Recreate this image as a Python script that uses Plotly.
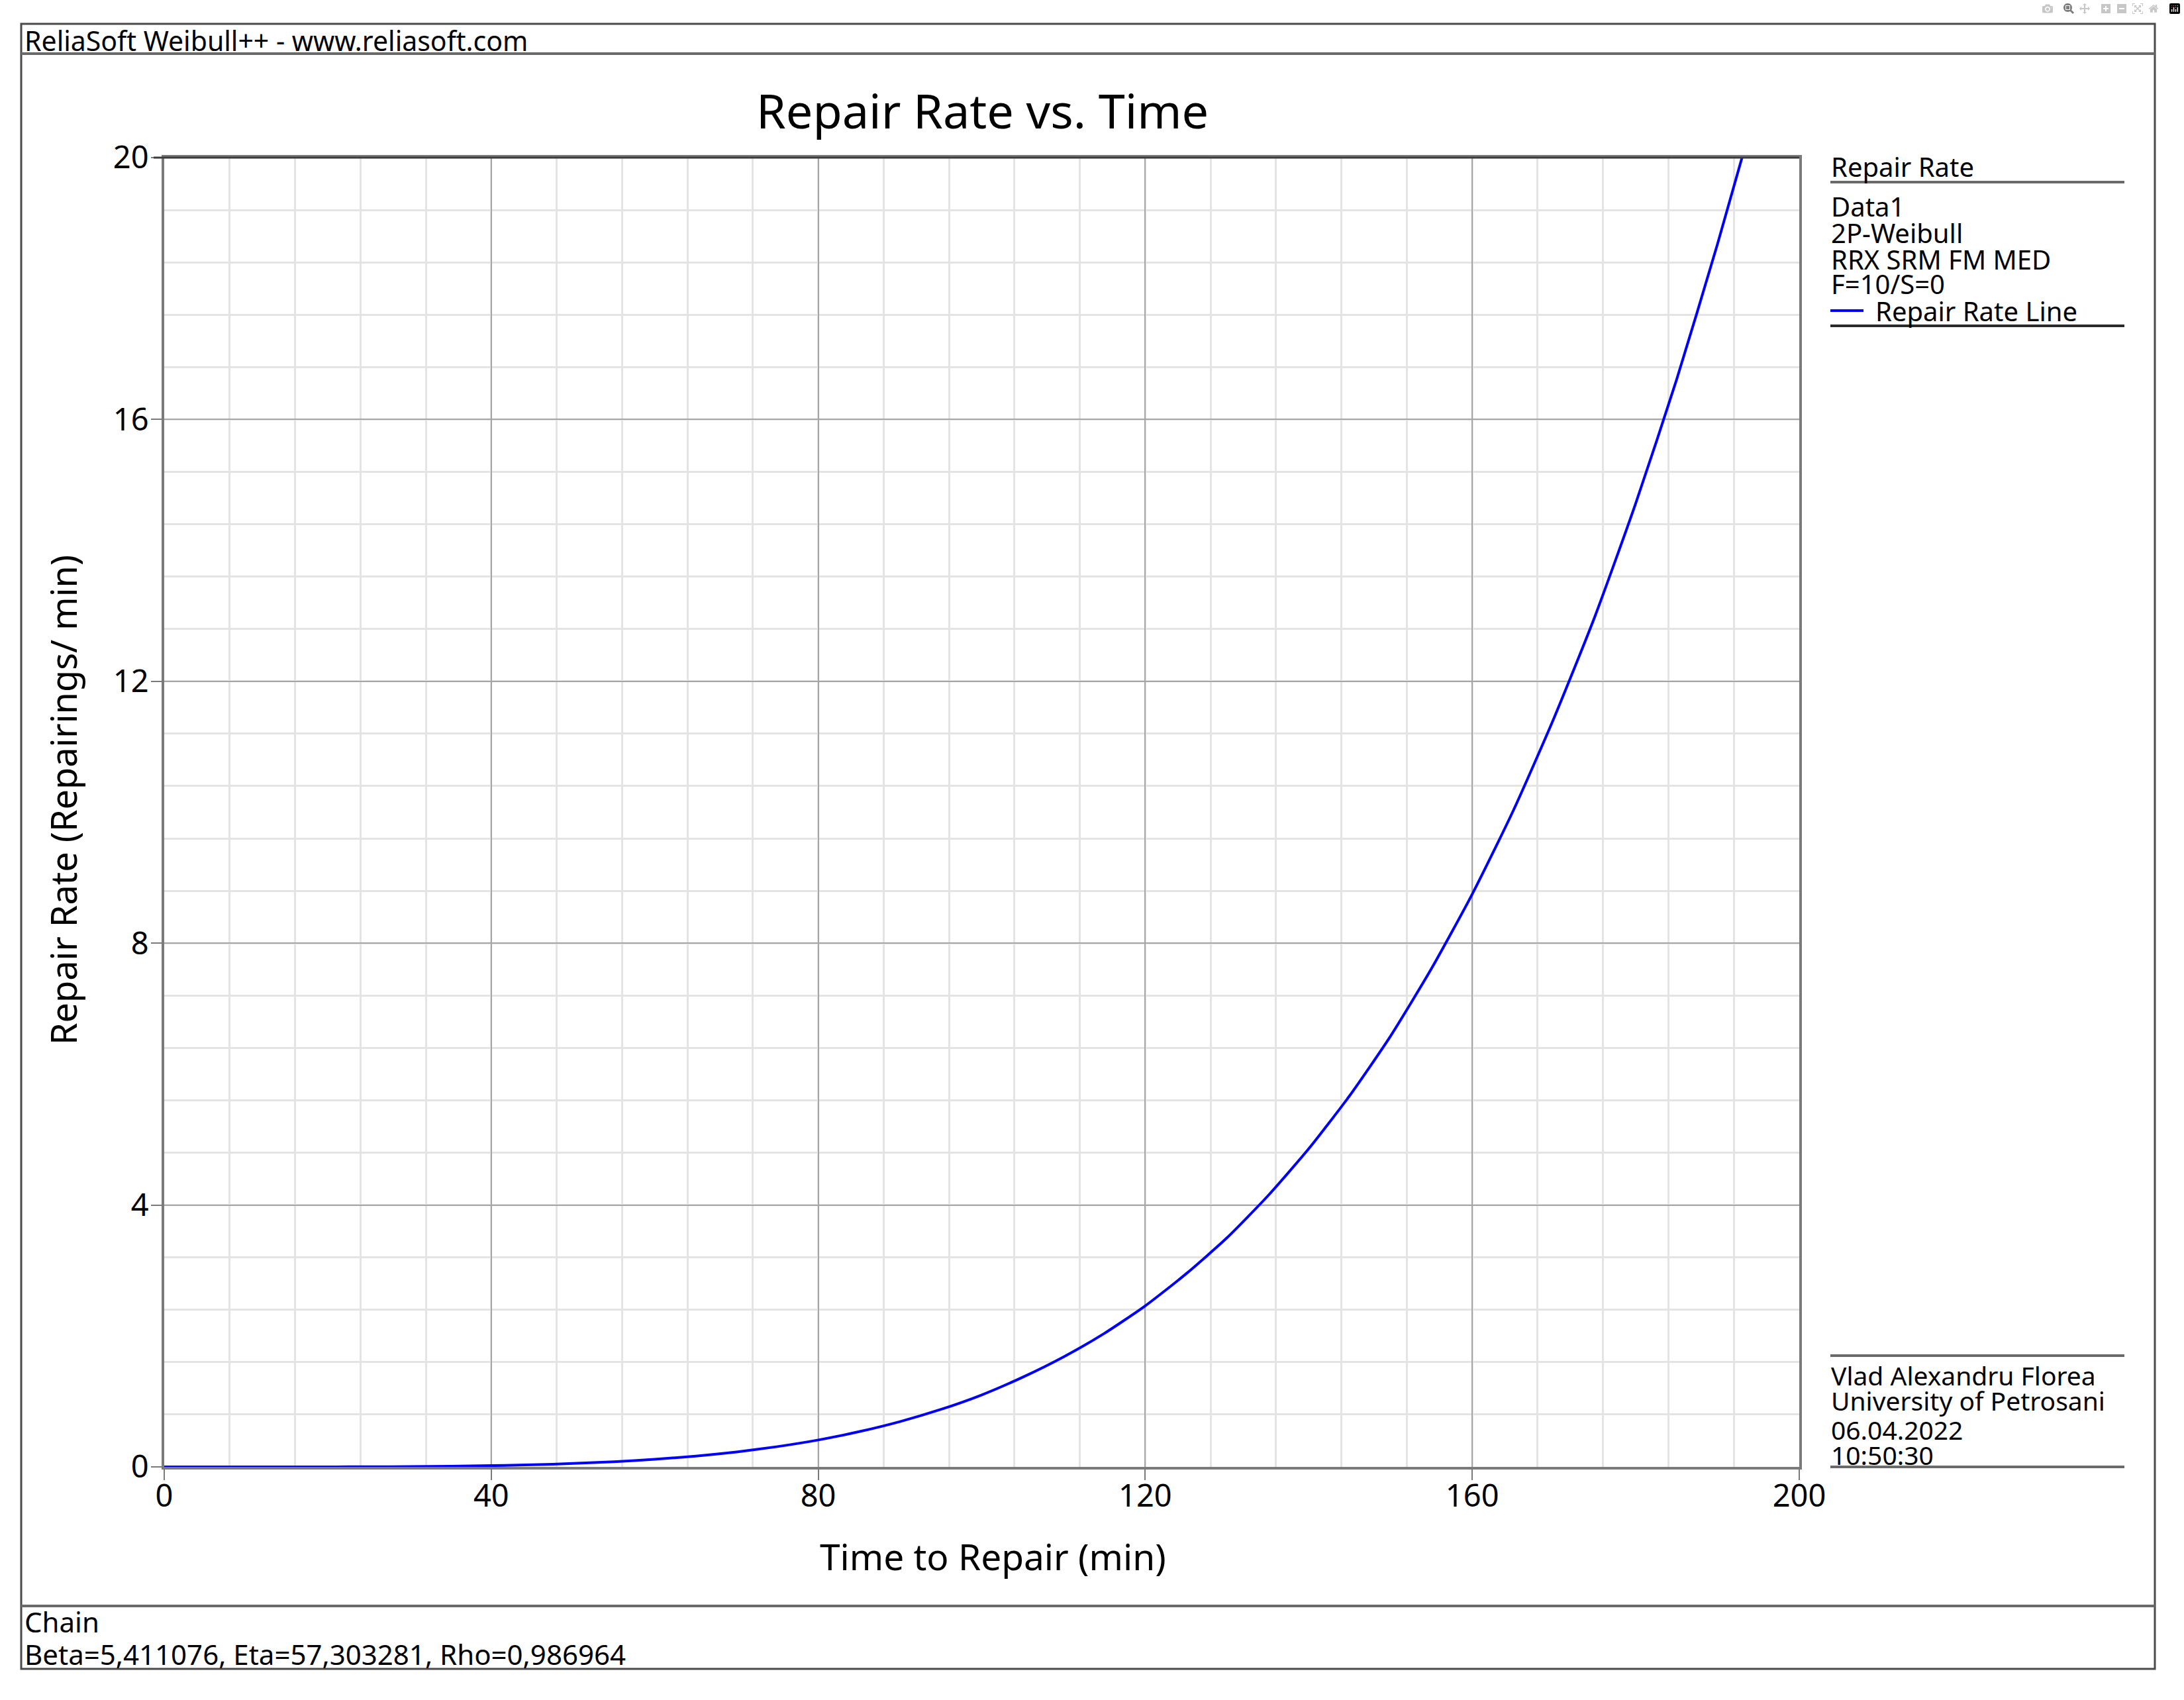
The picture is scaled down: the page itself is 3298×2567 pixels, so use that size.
import plotly.graph_objects as go

# ---------------- data ----------------
time_min = [0, 5, 10, 15, 20, 25, 30, 35, 40, 45, 50, 55, 60, 65, 70, 75, 80,
            85, 90, 95, 100, 105, 110, 115, 120, 125, 130, 135, 140, 145, 150,
            155, 160, 165, 170, 175, 180, 185, 190, 193]
repair_rate = [0.0, 0.0, 0.0, 0.0003, 0.0009, 0.0024, 0.0054, 0.0107, 0.0193,
               0.0325, 0.052, 0.079, 0.116, 0.165, 0.228, 0.310, 0.411, 0.538,
               0.692, 0.878, 1.10, 1.37, 1.68, 2.04, 2.46, 2.95, 3.50, 4.14,
               4.86, 5.67, 6.58, 7.61, 8.75, 10.02, 11.44, 12.99, 14.72, 16.61,
               18.68, 20.0]
x_ticks = [0, 40, 80, 120, 160, 200]
y_ticks = [0, 4, 8, 12, 16, 20]

header_text = "ReliaSoft Weibull++ - www.reliasoft.com"
title_text = "Repair Rate vs. Time"
x_title = "Time to Repair (min)"
y_title = "Repair Rate (Repairings/ min)"
legend_title = "Repair Rate"
legend_lines = ["Data1", "2P-Weibull", "RRX SRM FM MED", "F=10/S=0"]
legend_entry = "Repair Rate Line"
author_lines = ["Vlad Alexandru Florea", "University of Petrosani", "06.04.2022", "10:50:30"]
footer_lines = ["Chain", "Beta=5,411076, Eta=57,303281, Rho=0,986964"]

# ---------------- layout geometry (pixels) ----------------
W, H = 3298, 2567
L, R, T, B = 248, 2717, 238, 2215
FONT = "Noto Sans"


def px(x):
    return (x - L) / (R - L)


def py(y):
    return (B - y) / (B - T)


fig = go.Figure()
fig.add_trace(go.Scatter(
    x=time_min, y=repair_rate, mode="lines",
    line=dict(color="#0000ff", width=4, shape="spline", smoothing=0.6),
    name=legend_entry, showlegend=False, hoverinfo="x+y",
))

axis_common = dict(
    showline=True, linecolor="#7a7a7a", linewidth=4, mirror=True,
    ticks="outside", ticklen=16, tickwidth=2, tickcolor="#7a7a7a",
    showgrid=True, gridcolor="#a6a6a6", gridwidth=2,
    zeroline=False,
    tickfont=dict(family=FONT, size=47, color="#000000"),
)

fig.update_xaxes(range=[0, 200], tickvals=x_ticks, ticktext=[str(v) for v in x_ticks],
                 ticklabelstandoff=-16,
                 minor=dict(dtick=8, tick0=0, showgrid=True, gridcolor="#e4e4e4", gridwidth=3, ticks=""),
                 **axis_common)
fig.update_yaxes(range=[0, 20], tickvals=y_ticks, ticktext=[str(v) for v in y_ticks],
                 ticklabelstandoff=-6,
                 minor=dict(dtick=0.8, tick0=0, showgrid=True, gridcolor="#e4e4e4", gridwidth=3, ticks=""),
                 **axis_common)

shapes = []
# outer frame
shapes.append(dict(type="rect", xref="paper", yref="paper",
                   x0=px(32), x1=px(3254), y0=py(2520), y1=py(36),
                   line=dict(color="#4a4a4a", width=3)))
# header separator
shapes.append(dict(type="line", xref="paper", yref="paper",
                   x0=px(32), x1=px(3254), y0=py(81), y1=py(81),
                   line=dict(color="#6a6a6a", width=4)))
# footer separator
shapes.append(dict(type="line", xref="paper", yref="paper",
                   x0=px(32), x1=px(3254), y0=py(2425), y1=py(2425),
                   line=dict(color="#6a6a6a", width=4)))
# top border of plot area (darker)
shapes.append(dict(type="line", xref="paper", yref="paper",
                   x0=px(L - 16), x1=px(R), y0=1, y1=1,
                   line=dict(color="#3c3c3c", width=3)))
# legend box rules
for yy, col in [(275, "#6a6a6a"), (492, "#2a2a2a"), (2047, "#6a6a6a"), (2215, "#6a6a6a")]:
    shapes.append(dict(type="line", xref="paper", yref="paper",
                       x0=px(2764), x1=px(3208), y0=py(yy), y1=py(yy),
                       line=dict(color=col, width=4)))
# legend line sample
shapes.append(dict(type="line", xref="paper", yref="paper",
                   x0=px(2764), x1=px(2814), y0=py(469), y1=py(469),
                   line=dict(color="#0000ff", width=4)))

ann = []


def text(x, y, s, size, anchor="left", angle=0):
    ann.append(dict(xref="paper", yref="paper", x=px(x), y=py(y), text=s,
                    showarrow=False, xanchor=anchor, yanchor="middle",
                    textangle=angle, borderpad=0,
                    font=dict(family=FONT, size=size, color="#000000")))


SMALL = 40
text(36, 61, header_text, 41)
text(1483, 166, title_text, 72, anchor="center")
text(1500, 2349, x_title, 55, anchor="center")
text(95, 1208, y_title, 54, anchor="center", angle=-90)

text(2764, 252, legend_title, SMALL)
for yy, s in zip([311, 351, 391, 429], legend_lines):
    text(2764, yy, s, SMALL)
text(2831, 469, legend_entry, SMALL)
for yy, s in zip([2076, 2114, 2158, 2196], author_lines):
    text(2764, yy, s, 39)
for yy, s in zip([2448, 2497], footer_lines):
    text(36, yy, s, 42)

fig.update_layout(
    width=W, height=H, autosize=False,
    margin=dict(l=L, r=W - R, t=T, b=H - B, pad=0),
    paper_bgcolor="#ffffff", plot_bgcolor="#ffffff",
    shapes=shapes, annotations=ann, showlegend=False,
    font=dict(family=FONT, color="#000000"),
)

fig.write_html("out.html", post_script="document.body.style.margin='0';document.body.style.overflow='hidden';")
